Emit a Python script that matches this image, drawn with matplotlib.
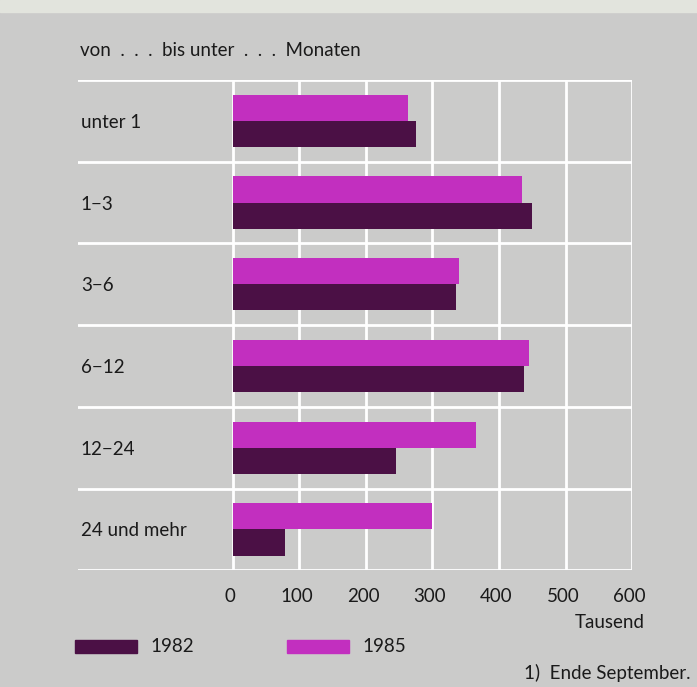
import numpy as np
import matplotlib.pyplot as plt

# Dauer der Arbeitslosigkeit, Tausend
categories = ["unter 1", "1\u22123", "3\u22126", "6\u221212", "12\u221224", "24 und mehr"]
values_1982 = [275, 450, 335, 438, 245, 78]
values_1985 = [263, 435, 340, 445, 365, 300]
xticks = [0, 100, 200, 300, 400, 500, 600]

BG = "#cbcbca"
DARK = "#4b1045"
PINK = "#c22fbf"
FONT = ["Lato", "DejaVu Sans"]
FS = 13.5

plt.rcParams["font.family"] = FONT
plt.rcParams["text.color"] = "#1a1a1a"

fig = plt.figure(figsize=(6.97, 6.87), dpi=100, facecolor=BG)
# light scan edge along the top
fig.patches.append(plt.Rectangle((0, 0.982), 1, 0.018, transform=fig.transFigure,
                                 color="#e2e4dd", zorder=0))

ax = fig.add_axes([0.112, 0.170, 0.795, 0.7136])
ax.set_facecolor(BG)
ax.set_xlim(-232, 600)
ax.set_ylim(5.5, -0.5)

y = np.arange(len(categories))
h = 0.32

# white grid
for b in np.arange(-0.5, len(categories) + 0.5, 1):
    ax.axhline(b, color="white", lw=2, zorder=1)
ax.vlines(xticks, -0.5, 5.5, color="white", lw=2, zorder=1)

ax.barh(y - h / 2, values_1985, height=h, color=PINK, zorder=2, label="1985")
ax.barh(y + h / 2, values_1982, height=h, color=DARK, zorder=2, label="1982")

for yi, cat in zip(y, categories):
    ax.text(-228, yi + 0.02, cat, fontsize=FS, ha="left", va="center")

for xt in xticks:
    ax.text(xt - 4, 5.82, str(xt), fontsize=FS, ha="center", va="center")

for s in ax.spines.values():
    s.set_visible(False)
ax.set_xticks([])
ax.set_yticks([])

fig.text(80 / 697, 1 - 50 / 687, "von  .  .  .  bis unter  .  .  .  Monaten", fontsize=FS,
         ha="left", va="center")
fig.text(645 / 697, 1 - 622 / 687, "Tausend", fontsize=FS, ha="right", va="center")

# legend
fig.patches.append(plt.Rectangle((75 / 697, 1 - 653 / 687), 62 / 697, 13 / 687,
                                 transform=fig.transFigure, color=DARK))
fig.text(150 / 697, 1 - 646 / 687, "1982", fontsize=FS, ha="left", va="center")
fig.patches.append(plt.Rectangle((287 / 697, 1 - 653 / 687), 62 / 697, 13 / 687,
                                 transform=fig.transFigure, color=PINK))
fig.text(362 / 697, 1 - 646 / 687, "1985", fontsize=FS, ha="left", va="center")

fig.text(690 / 697, 1 - 673 / 687, "1)  Ende September.", fontsize=FS,
         ha="right", va="center")

fig.savefig("out.png", dpi=100, facecolor=BG)
